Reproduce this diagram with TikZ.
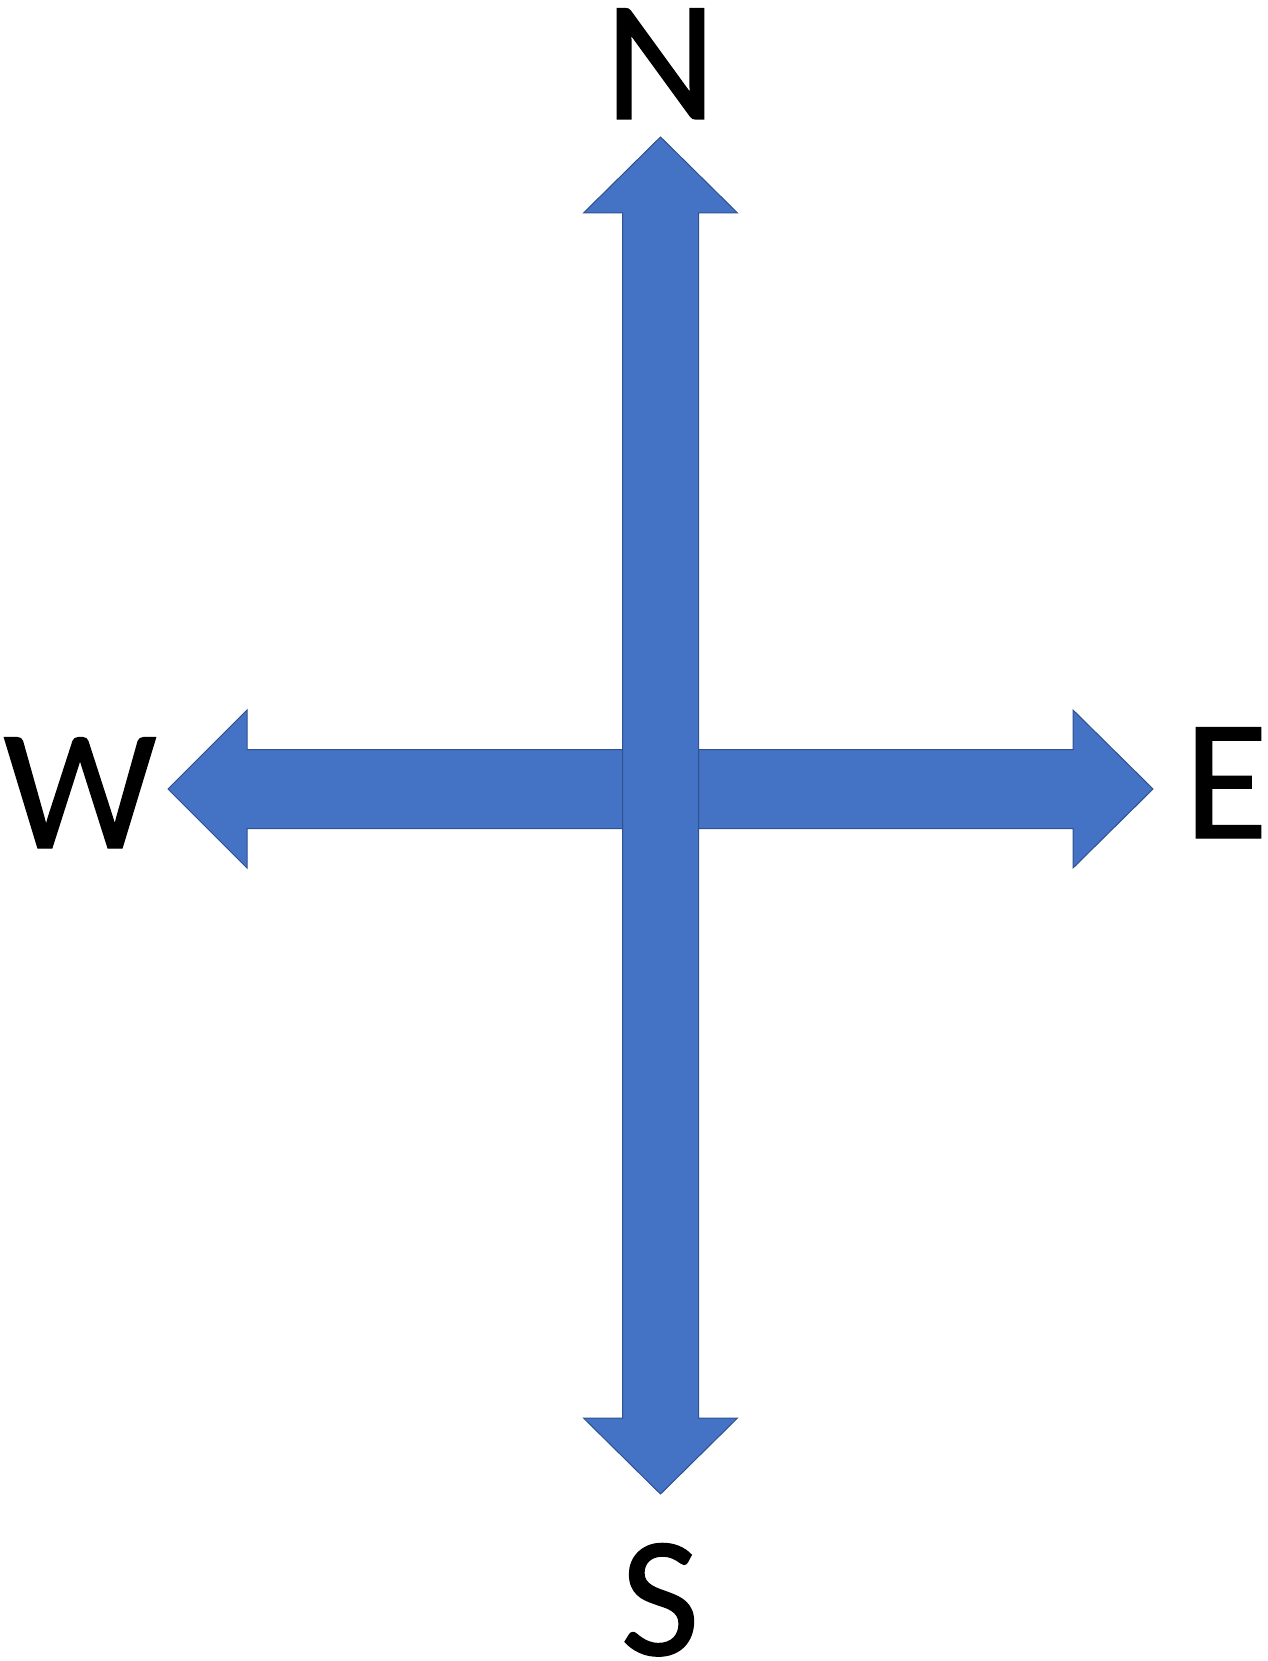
\documentclass[tikz,border=0pt]{standalone}
\usepackage{fontspec}
\setmainfont{Carlito}
\newfontfamily\compassfont{Carlito}[FakeBold=0.8]
\definecolor{arrowfill}{HTML}{4472C4}
\definecolor{arrowline}{HTML}{2F528F}
\begin{document}
\begin{tikzpicture}[x=1pt,y=-1pt,
  bigarrow/.style={fill=arrowfill,draw=arrowline,line width=1pt,line join=miter},
  compass/.style={inner sep=0pt,anchor=base,font=\compassfont\fontsize{172}{180}\selectfont}]
\useasboundingbox (0,0) rectangle (1267,1661);
% horizontal double arrow (below)
\draw[bigarrow] (168,789) -- (247,710) -- (247,749.5) -- (1073,749.5) -- (1073,710)
  -- (1153,789) -- (1073,868) -- (1073,828.5) -- (247,828.5) -- (247,868) -- cycle;
% vertical double arrow (on top)
\draw[bigarrow] (660.5,137) -- (737.5,213) -- (698.5,213) -- (698.5,1418) -- (737.5,1418)
  -- (660.5,1494) -- (583.5,1418) -- (622.5,1418) -- (622.5,213) -- (583.5,213) -- cycle;
\node[compass] (N) at (660.5,119) {N};
\node[compass] (W) at (80,848) {W};
\node[compass] (E) at (1226,838) {E};
\node[compass] (S) at (660,1655) {S};
\end{tikzpicture}
\end{document}
